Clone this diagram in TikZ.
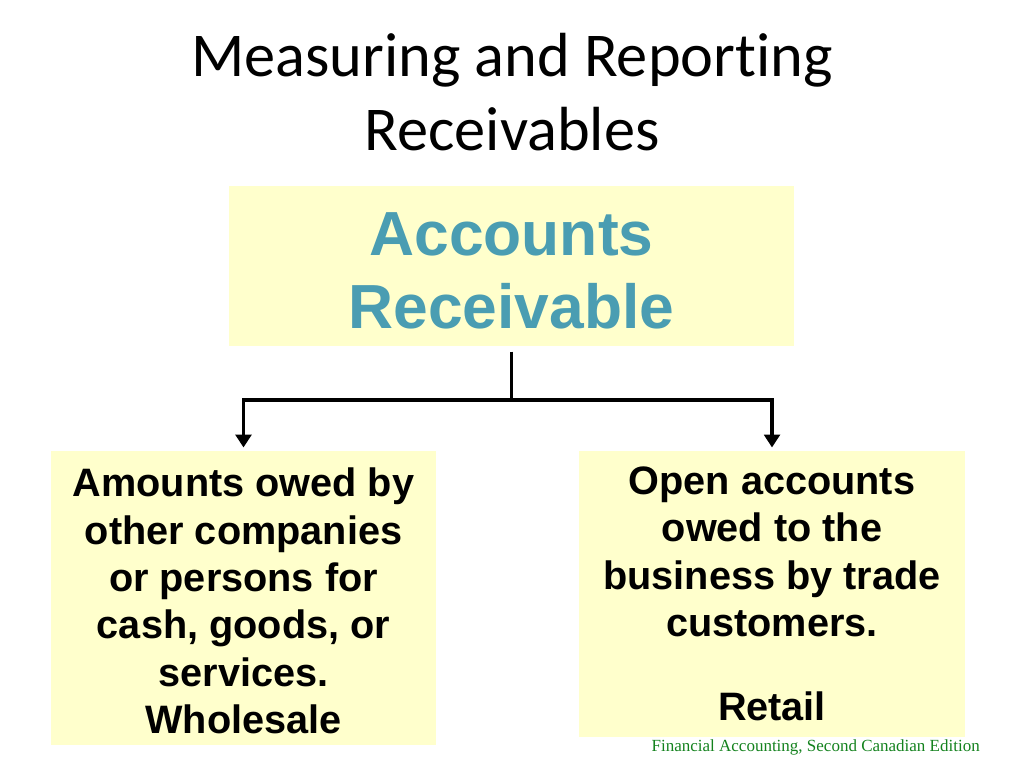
\documentclass[tikz,border=0pt]{standalone}
\usepackage{fontspec}
\usepackage{tikz}
\usetikzlibrary{arrows.meta}
\setmainfont{Liberation Serif}
\newfontfamily\titlefont[Ligatures=NoCommon]{Carlito}
\newfontfamily\boxfont{Liberation Sans}
\definecolor{boxyellow}{HTML}{FFFFCC}
\definecolor{arteal}{RGB}{74,157,178}
\definecolor{footgreen}{RGB}{20,130,30}

\begin{document}
\begin{tikzpicture}[x=0.0248046875cm, y=-0.0248046875cm]
    \tikzstyle{every box}=[
        fill = boxyellow,
        inner sep = 0pt,
        align = center
    ]
    \tikzstyle{link}=[
        line width = 2.8pt,
        -{Triangle[width=11pt, length=9pt]},
        shorten > = 2pt
    ]

    \useasboundingbox (0,0) rectangle (1024,768);

    \node (title) at (512,92)
        [align=center, font=\titlefont\fontsize{44}{52.7}\selectfont]
        {Measuring and Reporting\\Receivables};

    \node[every box] (ar) at (511.5,266)
        [minimum width=398.7pt, minimum height=112.5pt,
         text=arteal, font=\boxfont\bfseries\fontsize{44}{51}\selectfont]
        {\rule{0pt}{37pt}Accounts\\Receivable};
    \node[every box] (whole) at (243.5,598)
        [minimum width=272.1pt, minimum height=208.1pt,
         font=\boxfont\bfseries\fontsize{28}{33.4}\selectfont]
        {\rule{0pt}{24.5pt}Amounts owed by\\other companies\\or persons for\\cash, goods, or\\services.\\Wholesale};
    \node[every box] (retail) at (772,594)
        [minimum width=272.8pt, minimum height=202.5pt,
         font=\boxfont\bfseries\fontsize{28}{33.4}\selectfont]
        {Open accounts\\owed to the\\business by trade\\customers.\\[26pt]Retail};

    \node (foot) at (980,747) [anchor=east, inner sep=0pt, text=footgreen,
        font=\fontsize{12}{14}\selectfont]
        {Financial Accounting, Second Canadian Edition};

    \coordinate (fork) at (511.5,400);
    \draw[line width=2.8pt, shorten <=4pt] (ar.south) -- (fork);
    \draw[link] (fork) -| (whole.north);
    \draw[link] (fork) -| (retail.north);

\end{tikzpicture}
\end{document}
